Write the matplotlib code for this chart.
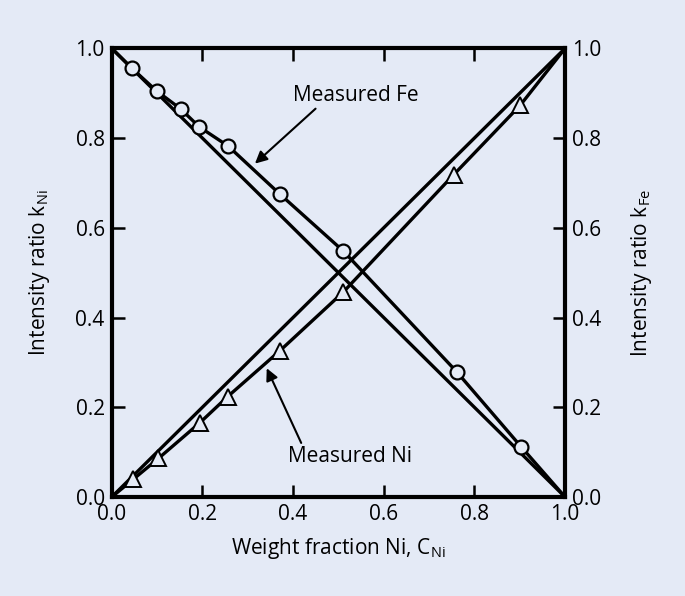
import matplotlib
matplotlib.use('Agg')
import matplotlib.pyplot as plt

plt.rcParams['font.family'] = ['Open Sans', 'DejaVu Sans']

fe_x = [0.0, 0.045, 0.099, 0.152, 0.193, 0.257, 0.371, 0.511, 0.761, 0.903, 1.0]
fe_k = [1.0, 0.955, 0.905, 0.865, 0.825, 0.782, 0.675, 0.548, 0.279, 0.112, 0.0]
ni_x = [0.0, 0.048, 0.103, 0.195, 0.256, 0.371, 0.511, 0.754, 0.901, 1.0]
ni_k = [0.0, 0.040, 0.086, 0.166, 0.224, 0.326, 0.457, 0.718, 0.873, 1.0]
ticks = [0.0, 0.2, 0.4, 0.6, 0.8, 1.0]
tick_labels = ['0.0', '0.2', '0.4', '0.6', '0.8', '1.0']

bg = '#e4eaf6'
fig = plt.figure(figsize=(6.85, 5.96), dpi=100, facecolor=bg)
ax = fig.add_axes([0.163, 0.166, 0.662, 0.753])
ax.set_facecolor(bg)

# retas ideais
ax.plot([0, 1], [0, 1], color='black', lw=2.4, zorder=2)
ax.plot([0, 1], [1, 0], color='black', lw=2.4, zorder=2)

# curvas medidas
ax.plot(fe_x, fe_k, color='black', lw=2.4, zorder=3)
ax.plot(ni_x, ni_k, color='black', lw=2.4, zorder=3)
ax.plot(fe_x[1:-1], fe_k[1:-1], 'o', ms=10, mfc=bg, mec='black', mew=1.6, zorder=4)
ax.plot(ni_x[1:-1], ni_k[1:-1], '^', ms=11, mfc=bg, mec='black', mew=1.4, zorder=4)

ax.annotate('Measured Fe', xy=(0.316, 0.743), xytext=(0.401, 0.895),
            fontsize=15, va='center', ha='left',
            arrowprops=dict(arrowstyle='-|>', color='black', lw=1.5,
                            mutation_scale=18, shrinkA=0, shrinkB=0,
                            relpos=(0.2, 0.0)))
ax.annotate('Measured Ni', xy=(0.342, 0.287), xytext=(0.388, 0.091),
            fontsize=15, va='center', ha='left',
            arrowprops=dict(arrowstyle='-|>', color='black', lw=1.5,
                            mutation_scale=18, shrinkA=0, shrinkB=0,
                            relpos=(0.12, 1.0)))

ax.set_xlim(0, 1)
ax.set_ylim(0, 1)

ax2 = ax.twinx()
ax2.set_ylim(0, 1)
ax2.set_yticks([])
for s in ax2.spines.values():
    s.set_visible(False)
ax2.set_ylabel('Intensity ratio k$_{\\mathregular{Fe}}$', fontsize=15, labelpad=46)

ax.set_xticks(ticks)
ax.set_xticklabels(tick_labels)
ax.set_yticks(ticks)
ax.set_yticklabels(tick_labels)
ax.tick_params(direction='in', length=9, width=1.8, labelsize=15,
               top=True, right=True, left=True, labelright=True, labelleft=True, pad=5)
for s in ax.spines.values():
    s.set_linewidth(3)

ax.set_xlabel('Weight fraction Ni, C$_{\\mathregular{Ni}}$', fontsize=15, labelpad=8)
ax.set_ylabel('Intensity ratio k$_{\\mathregular{Ni}}$', fontsize=15, labelpad=17)

fig.savefig('out.png', dpi=100, facecolor=bg)
